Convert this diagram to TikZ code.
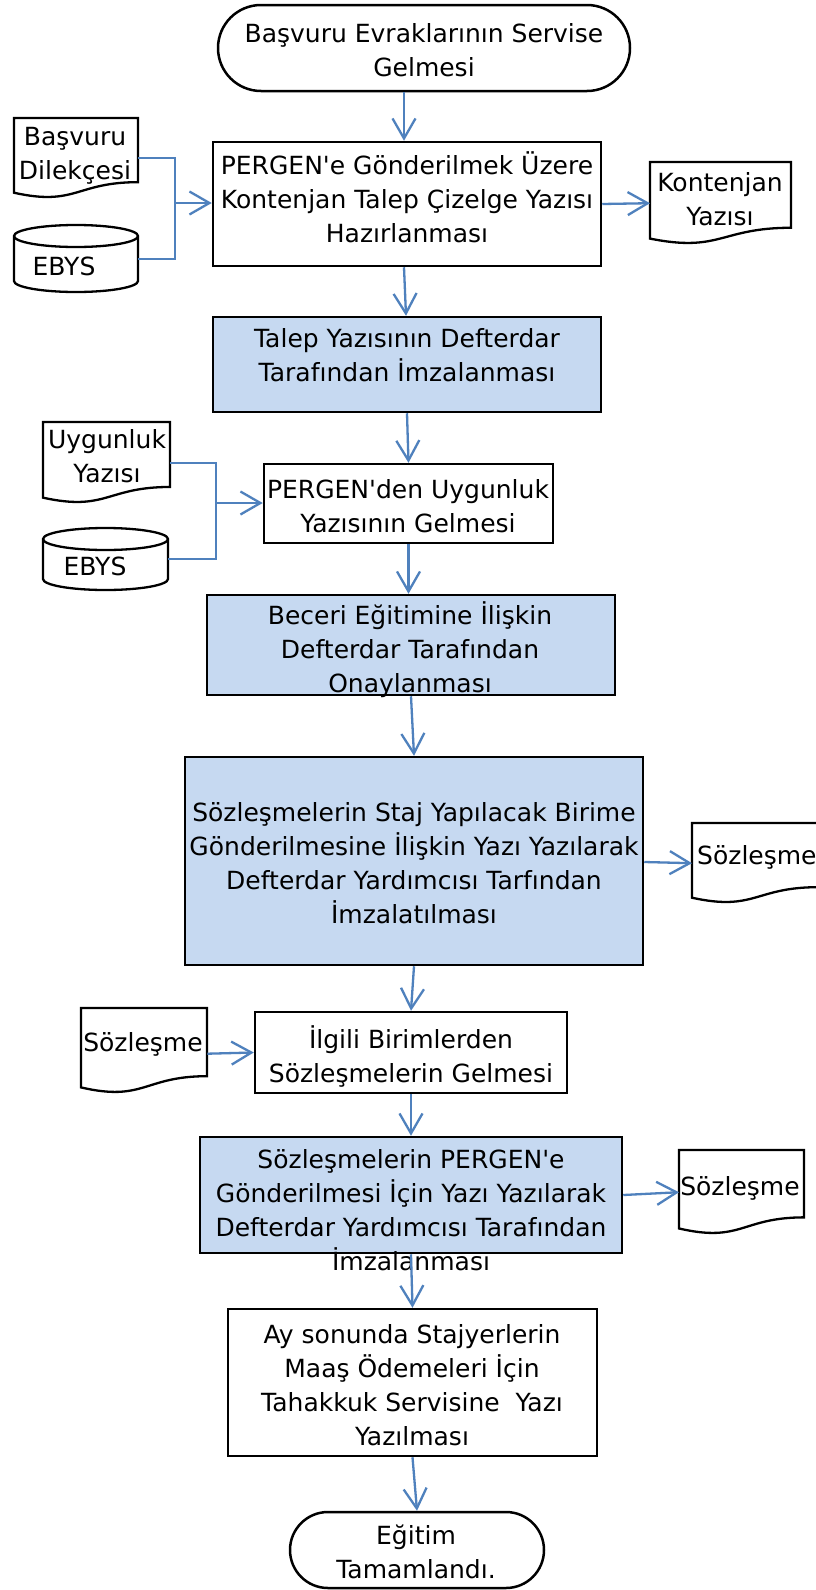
\documentclass[tikz,border=0pt]{standalone}
\usepackage{fontspec}
\setmainfont{DejaVu Sans}
\usetikzlibrary{arrows.meta,calc}
\definecolor{boxblue}{HTML}{C6D9F1}
\definecolor{connblue}{HTML}{4F81BD}
\newcommand\apo{\textquotesingle}
\tikzset{
  box/.style={draw, line width=2.5pt, inner sep=0pt, rectangle},
  bluebox/.style={box, fill=boxblue},
  term/.style={draw, line width=2.5pt, inner sep=0pt, rectangle},
  txt/.style={font=\fontsize{25}{34}\selectfont, align=center, inner sep=0pt},
  wire/.style={draw=connblue, line width=2.3pt},
  conn/.style={draw=connblue, line width=2.3pt, -{Straight Barb[length=20pt,width=23pt]}},
  shapeline/.style={draw, line width=2.3pt, fill=white},
}
\newcommand\docshape[5]{%
  \pgfmathsetmacro\dw{#4-#2}\pgfmathsetmacro\dh{#5-#3}%
  \node[inner sep=0pt, minimum width=\dw pt, minimum height=\dh pt, anchor=north west] (#1) at (#2,#3) {};
  \draw[shapeline] (#2,#3) -- (#4,#3) -- (#4,{#3+0.802*\dh})
    .. controls ({#2+0.5*\dw},{#3+0.802*\dh}) and ({#2+0.5*\dw},{#3+1.107*\dh}) .. (#2,{#3+0.934*\dh}) -- cycle;
}
\newcommand\cylshape[5]{%
  \pgfmathsetmacro\cw{#4-#2}\pgfmathsetmacro\ch{#5-#3}\pgfmathsetmacro\crx{(#4-#2)/2}%
  \node[inner sep=0pt, minimum width=\cw pt, minimum height=\ch pt, anchor=north west] (#1) at (#2,#3) {};
  \draw[shapeline] (#2,{#3+11}) -- (#2,{#5-11})
     arc[start angle=180,end angle=360,x radius=\crx pt,y radius=11pt]
     -- (#4,{#3+11})
     arc[start angle=0,end angle=180,x radius=\crx pt,y radius=11pt] -- cycle;
  \draw[line width=2.3pt] (#2,{#3+11}) arc[start angle=180,end angle=360,x radius=\crx pt,y radius=11pt];
}
\begin{document}
\begin{tikzpicture}[x=1pt,y=-1pt]
\useasboundingbox (0,0) rectangle (816,1590);
\fill[white] (0,0) rectangle (816,1590);

% terminators
\node[term, rounded corners=43pt, minimum width=412pt, minimum height=86pt] (start) at (424,48) {};
\node[term, rounded corners=38pt, minimum width=254pt, minimum height=76pt] (end) at (417,1550) {};

% process boxes
\node[box, minimum width=388pt, minimum height=124pt] (b1) at (407,204) {};
\node[bluebox, minimum width=388pt, minimum height=95pt] (b2) at (407,364.5) {};
\node[box, minimum width=289pt, minimum height=79pt] (b3) at (408.5,503.5) {};
\node[bluebox, minimum width=408pt, minimum height=100pt] (b4) at (411,645) {};
\node[bluebox, minimum width=458pt, minimum height=208pt] (b5) at (414,861) {};
\node[box, minimum width=312pt, minimum height=81pt] (b6) at (411,1052.5) {};
\node[bluebox, minimum width=422pt, minimum height=116pt] (b7) at (411,1195) {};
\node[box, minimum width=369pt, minimum height=147pt] (b8) at (412.5,1382.5) {};

% documents and databases
\docshape{doc1}{14}{118}{138}{198}
\cylshape{cyl1}{14}{225}{138}{292}
\docshape{doc2}{650}{162}{791}{244}
\docshape{doc3}{43}{422}{170}{503}
\cylshape{cyl2}{43}{528}{168}{590}
\docshape{doc4}{692}{823}{818}{903}
\docshape{doc5}{81}{1008}{207}{1093}
\docshape{doc6}{679}{1150}{804}{1234}

% texts
\node[txt] (tstart) at (424,50) {Başvuru Evraklarının Servise\\Gelmesi};
\node[txt] (tb1) at (407,197) {PERGEN\apo e Gönderilmek Üzere\\Kontenjan Talep Çizelge Yazısı\\Hazırlanması};
\node[txt] (tb2) at (407,355) {Talep Yazısının Defterdar\\Tarafından İmzalanması};
\node[txt] (tb3) at (408,506) {PERGEN\apo den Uygunluk\\Yazısının Gelmesi};
\node[txt] (tb4) at (410,650) {Beceri Eğitimine İlişkin\\Defterdar Tarafından\\Onaylanması};
\node[txt] (tb5) at (414,863) {Sözleşmelerin Staj Yapılacak Birime\\Gönderilmesine İlişkin Yazı Yazılarak\\Defterdar Yardımcısı Tarfından\\İmzalatılması};
\node[txt] (tb6) at (411,1056) {İlgili Birimlerden\\Sözleşmelerin Gelmesi};
\node[txt] (tb7) at (411,1210) {Sözleşmelerin PERGEN\apo e\\Gönderilmesi İçin Yazı Yazılarak\\Defterdar Yardımcısı Tarafından\\İmzalanması};
\node[txt] (tb8) at (412,1385) {Ay sonunda Stajyerlerin\\Maaş Ödemeleri İçin\\Tahakkuk Servisine~~Yazı\\Yazılması};
\node[txt] (tend) at (416,1552) {Eğitim\\Tamamlandı.};

\node[txt] (td1) at (75,156) {Başvuru\\Dilekçesi};
\node[txt] (tc1) at (64,266) {EBYS};
\node[txt] (td2) at (720,199) {Kontenjan\\Yazısı};
\node[txt] (td3) at (107,456) {Uygunluk\\Yazısı};
\node[txt] (tc2) at (95,566) {EBYS};
\node[txt, anchor=west] (td4) at (697,857) {Sözleşme};
\node[txt] (td5) at (143,1044) {Sözleşme};
\node[txt] (td6) at (740,1188) {Sözleşme};

% connectors (main flow)
\draw[conn] ([xshift=-20pt]start.south) -- ([xshift=-3pt]b1.north);
\draw[conn] ([xshift=-3pt]b1.south) -- ([xshift=-1pt]b2.north);
\draw[conn] (b2.south) -- (b3.north);
\draw[conn] (b3.south) -- (b3.south |- b4.north);
\draw[conn] (b4.south) -- (b5.north);
\draw[conn] (b5.south) -- (b6.north);
\draw[conn] (b6.south) -- (b7.north);
\draw[conn] (b7.south) -- (b8.north);
\draw[conn] (b8.south) -- (end.north);

% side inputs/outputs
\coordinate (j1) at (175,203);
\draw[wire] (doc1.east) -| (j1) |- (cyl1.east);
\draw[conn] (j1) -- (j1 -| b1.west);
\draw[conn] (b1.east) -- (doc2.west);

\coordinate (j2) at (216,503);
\draw[wire] (doc3.east) -| (j2) |- (cyl2.east);
\draw[conn] (j2) -- (j2 -| b3.west);

\draw[conn] ([yshift=-1pt]b5.east) -- (doc4.west);
\draw[conn] ([yshift=-3pt]doc5.east) -- (b6.west);
\draw[conn] (b7.east) -- (doc6.west);
\end{tikzpicture}
\end{document}
